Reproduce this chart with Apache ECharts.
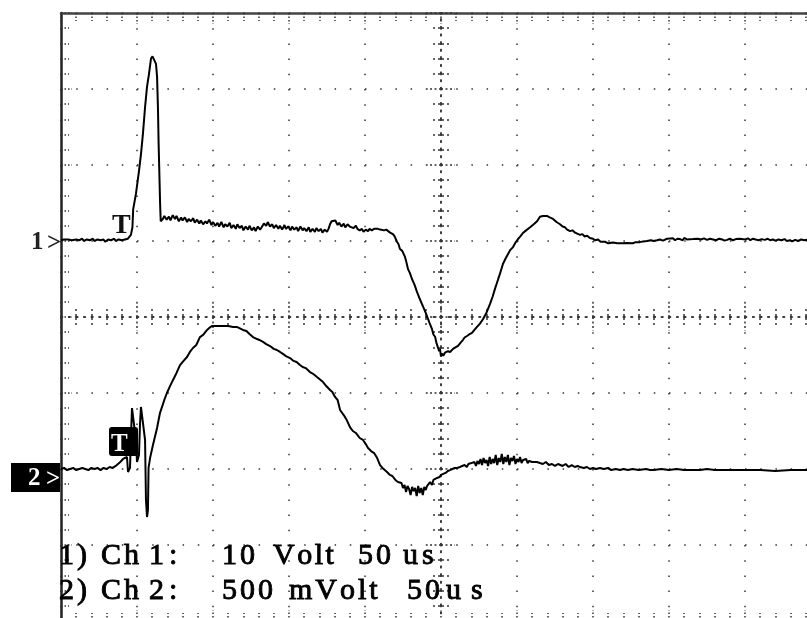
<!DOCTYPE html>
<html><head><meta charset="utf-8">
<script src="https://cdn.jsdelivr.net/npm/echarts@6/dist/echarts.min.js"></script>
<style>html,body{margin:0;padding:0;background:#fff}#c{width:807px;height:618px}</style>
</head><body><div id="c"></div>
<script>
// ---- DATA (time in microseconds from left screen edge) ----
// Channel 1: [time us, Volts]  (10 V/div)
const ch1Trace = [
[0,0.1],[2,0.2],[3,0.0],[5,0.2],[7,0.1],[8,-0.1],[10,0.2],[12,0.1],[14,0.3],[15,0.0],[17,0.2],[19,0.1],[21,0.3],[22,0.0],[24,0.2],[26,0.1],[28,0.2],[29,-0.1],[31,0.2],[33,0.1],[35,0.3],[36,0.0],[38,0.2],[40,0.1],[42,0.2],[44,0.3],
[46,0.8],[47,1.8],[47.5,4.2],[49.3,6.2],[51.3,9.2],[52.6,11.4],[53.9,14.1],[55.3,17.6],[56.6,20.3],[57.9,22.0],[59.2,24.0],[60.2,24.3],[61.2,24.2],[62.5,23.3],[63.2,21.6],[63.8,17.4],[64.2,13.0],[64.8,8.2],[65.2,4.9],[65.6,2.6],
[67,2.9],[68,3.3],[69.5,2.8],[71,3.2],[72,2.7],[73.5,3.4],[75,2.9],[76,3.3],[77.5,2.6],[79,3.1],[80,2.7],[81.5,3.1],[83,2.5],[84,2.9],[85.5,2.6],[87,3.0],[88,2.4],[89.5,2.8],[91,2.3],[92,2.7],[93.5,2.2],[95,2.6],[96,2.3],[97.5,2.8],[99,2.1],[100,2.5],[101.5,2.0],[103,2.4],[104,1.9],[105.5,2.5],[107,1.8],[108,2.2],[109.5,1.9],[111,2.4],[112,1.7],[113.5,2.1],[115,1.6],[116,2.2],[117.5,1.7],[119,2.0],[120,1.4],[121.5,1.9],[123,1.5],[124,2.0],[125.5,1.4],[127,1.8],[128,1.3],[129.5,1.9],[131,1.5],[132,1.8],[133.5,2.3],[135,2.0],[136,2.5],[137.5,1.9],[139,2.2],[140,1.7],[141.5,2.1],[143,1.6],[144,2.0],[145.5,1.5],[147,2.1],[148,1.6],[149.5,1.9],[151,1.4],[152,1.9],[153.5,1.5],[155,1.8],[156,1.3],[157.5,1.9],[159,1.4],[160,1.7],[161.5,1.3],[163,1.8],[164,1.2],[165.5,1.6],[167,1.2],[168,1.7],[169.5,1.3],[171,1.6],[172,1.1],[173.5,1.5],[175,1.2],[176,1.6],[177,2.2],[178,2.6],[179,2.4],[180.5,2.7],[182,2.1],[183,2.4],[184.5,1.9],[186,2.3],[187,1.8],[188.5,2.2],[190,1.9],[191,2.1],[192.5,1.7],[194,2.0],[195,1.6],[196.5,1.4],[198,1.6],[199,1.2],[200.5,1.5],[202,1.3],[203,1.6],[204.5,1.4],[206,1.6],[207,1.5],[208.5,1.6],[210,1.5],[211,1.6],[212.5,1.4],[214,1.5],[215,1.3],[216.5,1.1],
[218.4,0.9],[219.5,0.6],[221,-0.1],[222,-0.4],[223,-1.05],[224.5,-1.3],[226.3,-2.1],[227,-2.6],[228.3,-3.7],[229.5,-4.2],[230.9,-5.0],[232.5,-5.7],[234.2,-6.7],[236,-7.6],[237.5,-8.3],[239,-9.0],[240.8,-9.9],[242.5,-10.8],[244.1,-11.6],[245,-12.3],[246.1,-12.6],[247,-13.4],[248,-13.6],[248.8,-14.5],[249.3,-14.2],[250,-15.2],[250.7,-14.8],[251.5,-15.1],[252.6,-14.7],[253.5,-14.8],[254.6,-14.5],[256,-14.6],[257.9,-14.2],[259.5,-14.0],[261.2,-13.8],[262.8,-13.4],[264.5,-13.0],[265.5,-12.7],[267.1,-12.5],[268.5,-12.3],[270.4,-12.1],[272,-11.7],[273.7,-11.3],[275.5,-10.9],[277.6,-10.3],[280,-9.4],[282.2,-8.3],[284,-7.3],[285.5,-6.3],[287,-5.4],[288.8,-4.3],[290.8,-3.0],[292.5,-2.3],[294.1,-1.7],[295.5,-1.2],[297.4,-0.8],[299,-0.2],[300.7,0.26],[302.2,0.6],[303.9,1.05],[306,1.4],[308.6,1.8],[311,2.2],[313.2,2.6],[315.1,3.2],[317,3.3],[319.7,3.3],[321.5,3.1],[323.7,2.9],[326,2.5],[328.3,2.2],[330,1.9],[331.6,1.8],[333,1.5],[334.9,1.3],[336.5,1.4],[338.2,1.1],[339.5,1.2],[341.4,0.8],[343,0.9],[344.5,0.6],[346.1,0.7],[348,0.4],[350,0.3],[351.5,0.1],[353.3,0.2],[355,-0.1],[357.9,-0.1],[360,-0.3],[363.2,-0.2],[366,-0.3],[369.7,-0.3],[372,-0.25],[376.3,-0.3],[378,-0.15],[380.9,-0.15],[383,-0.05],[385.5,0.0],[388,0.1],[390,0.0],[392.1,0.1],[394,0.2],[396,0.05],[398.7,0.3],[400,0.15],[402.6,0.35],[404,0.1],[405.5,0.3],[407.2,0.25],[409,0.1],[410,0.4],[411.8,0.2],[413,0.3],[415.8,0.25],[417,0.1],[419,0.3],[421,0.2],[423,0.35],[425,0.15],[427,0.3],[429,0.2],[431,0.1],[433,0.3],[435,0.2],[436.5,0.05],[438.2,0.15],[440,0.3],[442,0.1],[444,0.25],[446.7,0.3],[448,0.15],[450,0.2],[452,0.35],[453.5,0.1],[455.3,0.3],[457,0.2],[459,0.1],[461,0.25],[463,0.15],[465,0.3],[466.5,0.1],[468.4,0.2],[470,0.05],[472,0.2],[474,0.1],[476,0.25],[477.5,0.0],[479.6,0.1],[481,-0.05],[483,0.15],[485,0.0],[487,0.2],[489,0.1],[490.8,0.15]
];
// Channel 2: [time us, milliVolts]  (500 mV/div)
const ch2Trace = [
[0,0],[2,7],[4,-7],[6,0],[8,7],[10,-7],[12,0],[14,7],[16,0],[18,-7],[20,7],[22,0],[24,7],[26,-7],[28,7],[30,0],[32,13],[34,7],[36,20],[37.5,33],[39,46],[40.8,66],[42,72],[43.4,79],[44.1,-20],[45.4,7],[46,200],[46.7,401],[48,408],[49.3,191],[50.0,46],[50.6,40],[51.3,92],[52,300],[52.6,408],[53.9,414],[55.3,191],[55.9,-204],[56.6,-316],[57.2,-270],[57.6,7],[58.6,72],[60.5,158],[63.2,270],[65.1,368],[68.4,467],[69.7,500],[71.5,540],[73.7,586],[76,632],[78.3,684],[80.5,710],[82.9,737],[84.8,770],[86.8,796],[89,816],[91.4,868],[93.5,882],[96.1,915],[97.5,928],[99.3,941],[102,941],[105.9,941],[110,941],[113.2,934],[116,934],[119.7,915],[122,908],[124,888],[126.3,868],[129,855],[130.5,849],[132.9,836],[135,822],[137.5,809],[140,790],[142,783],[144.1,770],[146,757],[148,743],[150.7,730],[153,711],[155,704],[157.2,684],[159,671],[161,664],[163.8,638],[166,625],[168.4,605],[170,592],[172.4,572],[174.5,546],[177,520],[178.5,507],[180.3,474],[182,454],[183.6,388],[186,355],[188,322],[190.1,276],[192,250],[194,237],[196.5,204],[198.7,191],[200.5,164],[202,138],[204,118],[206,105],[208,72],[209.9,26],[211.5,7],[213,-7],[214.5,-20],[216.4,-39],[218,-46],[220,-72],[221.7,-86],[223,-99],[224,-92],[225,-125],[226,-105],[227,-151],[228,-112],[229,-132],[230,-171],[231,-118],[232,-145],[233,-125],[234,-178],[235,-112],[236,-158],[237,-125],[238,-171],[239,-118],[240,-138],[240.8,-112],[242,-99],[242.8,-86],[244,-105],[245,-72],[246,-79],[247.4,-59],[249,-53],[250,-39],[251.3,-33],[253,-26],[254.5,-13],[255.9,-7],[257.5,0],[259,7],[260.5,7],[262.5,13],[264,20],[265.5,26],[267,13],[268,33],[269.1,20],[270,39],[271,26],[272,46],[273,20],[274,53],[275,33],[276,66],[277,26],[278,72],[279,39],[280,59],[281,20],[282,79],[283,33],[284,66],[285,39],[286,92],[287,26],[288,72],[289,46],[290,99],[291,33],[292,79],[293,46],[294,92],[295,26],[296,72],[297,53],[298,86],[299,33],[300,66],[301,46],[302,79],[303,39],[304,59],[305,46],[306,66],[307,39],[308,53],[309,40],[310,46],[311,39],[313,46],[315.1,39],[317,33],[319,46],[321,26],[323,33],[325,20],[327,33],[328.3,26],[330,20],[332,33],[334,13],[336,26],[338,13],[340,20],[341.4,13],[344,7],[346,13],[348,0],[350,7],[352,0],[354.6,7],[357,0],[360,7],[362,-7],[365,0],[367.8,-7],[370,0],[373,-7],[376,0],[380,-7],[385,0],[387.5,-7],[390,-7],[395,0],[400,-7],[405,0],[410,-7],[415,-7],[420.4,-7],[425,0],[430,-7],[440,-7],[450,-7],[460,-7],[470,-13],[480,-7],[490.8,-7]
];
// Screen settings
const timeRangeUs = [0, 500];       // 10 div x 50 us
const divisionRange = [-4, 4];      // 8 vertical divisions
const ch1RangeVolt = [-50, 30];     // 10 V/div, ground 1 div above centre
const ch2RangeMilliVolt = [-1000, 3000]; // 500 mV/div, ground 2 div below centre
const caption1Words = ['1)', 'Ch', '1:', '10', 'Volt', '50', 'us'];
const caption2Words = ['2)', 'Ch', '2:', '500', 'mVolt', '50', 'us'];
const channelMarks = ['1', '>', '2', '>'];
const triggerMark = 'T';

// ---- LAYOUT / STYLE ----
const GRID = {left: 61, top: 13, width: 760, height: 608};
const dotColor = '#333';
const serifFamily = "'Liberation Serif', 'DejaVu Serif', serif";
const capSize = 30;
const caption1X = [59, 101, 149, 222, 273, 358, 403];
const caption1Gap = [3, 3, 5, 3, 2.5, 3, 4];
const caption2X = [59, 101, 149, 222, 289, 407, 446];
const caption2Gap = [3, 3, 5, 3, 3, 3, 10];

const measure = document.createElement('canvas').getContext('2d');
function txt(text, x, y, size, weight, fill, extra) {
  return {type: 'text', x: x, y: y, z: 100, silent: true,
    style: Object.assign({text: text, fontSize: size, fontFamily: serifFamily, fontWeight: weight,
      font: weight + ' ' + size + 'px ' + serifFamily,
      fill: fill, textVerticalAlign: 'middle', verticalAlign: 'middle'}, extra || {})};
}
function spaced(str, x, y, size, spacing, fill) {
  measure.font = size + 'px ' + serifFamily;
  const out = [];
  let cx = x;
  for (const ch of str) {
    out.push(txt(ch, cx, y, size, 'normal', fill, {stroke: fill, lineWidth: 0.9}));
    cx += measure.measureText(ch).width + spacing;
  }
  return out;
}
const graphics = [];
caption1Words.forEach((w, i) => graphics.push(...spaced(w, caption1X[i], 556, capSize, caption1Gap[i], '#000')));
caption2Words.forEach((w, i) => graphics.push(...spaced(w, caption2X[i], 591, capSize, caption2Gap[i], '#000')));
// channel markers
graphics.push(txt(channelMarks[0], 31, 243, 25, 'bold', '#222'));
graphics.push(txt(channelMarks[1], 47, 244, 25, 'bold', '#222'));
graphics.push({type: 'rect', z: 1, silent: true, shape: {x: 11, y: 463, width: 49, height: 29}, style: {fill: '#000'}});
graphics.push(txt(channelMarks[2], 28, 479, 25, 'bold', '#fff'));
graphics.push(txt(channelMarks[3], 46, 480, 25, 'bold', '#fff'));
// trigger markers
graphics.push(txt(triggerMark, 112, 226, 28, 'bold', '#111'));
graphics.push({type: 'rect', z: 1, silent: true, shape: {x: 109, y: 427, width: 29, height: 29, r: 3}, style: {fill: '#000'}});
graphics.push(txt(triggerMark, 111, 445, 25, 'bold', '#fff'));

const dotted = {show: true, lineStyle: {color: dotColor, width: 1.5, type: [1.5, 13.7]}};
const centreLine = {show: true, onZero: false, lineStyle: {color: dotColor, width: 1.5, type: [1.5, 6.1]}};
const centreTick = {show: true, inside: true, length: 14, lineStyle: {color: dotColor, width: 1.5, type: [2, 2.5]}};
const centreMinor = {show: true, splitNumber: 5, length: 8, lineStyle: {color: dotColor, width: 1.5, type: [3, 3]}};
const edgeTick = {show: true, inside: true, length: 11, lineStyle: {color: dotColor, width: 1.5, type: [1.5, 2]}};
const edgeMinor = {show: true, splitNumber: 5, length: 8, lineStyle: {color: dotColor, width: 1.5, type: [1.5, 2]}};
const noLabel = {show: false};

function xAx(extra) {
  return Object.assign({type: 'value', min: timeRangeUs[0], max: timeRangeUs[1], interval: 50,
    axisLabel: noLabel, splitLine: {show: false}}, extra);
}
function divAx(extra) {
  return Object.assign({type: 'value', min: divisionRange[0], max: divisionRange[1], interval: 1,
    axisLabel: noLabel, splitLine: {show: false}}, extra);
}

const chart = echarts.init(document.getElementById('c'), null, {renderer: 'canvas'});
chart.setOption({
  animation: false,
  backgroundColor: '#fff',
  grid: Object.assign({containLabel: false, outerBoundsMode: 'none'}, GRID),
  xAxis: [
    xAx({position: 'bottom', splitLine: dotted,
      axisLine: {show: true, onZero: true, onZeroAxisIndex: 0, lineStyle: centreLine.lineStyle},
      axisTick: centreTick, minorTick: centreMinor}),
    xAx({position: 'top',
      axisLine: {show: true, onZero: true, onZeroAxisIndex: 0, lineStyle: centreLine.lineStyle},
      axisTick: centreTick, minorTick: centreMinor}),
    xAx({position: 'top', axisLine: {show: true, onZero: false, lineStyle: {color: '#444', width: 2.5}},
      axisTick: edgeTick, minorTick: edgeMinor}),
    xAx({position: 'bottom', axisLine: {show: true, onZero: false, lineStyle: {color: '#333', width: 2}},
      axisTick: edgeTick, minorTick: edgeMinor})
  ],
  yAxis: [
    divAx({position: 'left', splitLine: dotted,
      axisLine: {show: true, onZero: false, lineStyle: {color: '#222', width: 2.5}},
      axisTick: edgeTick, minorTick: edgeMinor}),
    divAx({position: 'left', offset: -380, axisLine: centreLine, axisTick: centreTick, minorTick: centreMinor}),
    divAx({position: 'right', offset: -380, axisLine: centreLine, axisTick: centreTick, minorTick: centreMinor}),
    {type: 'value', show: false, min: ch1RangeVolt[0], max: ch1RangeVolt[1], interval: 10},
    {type: 'value', show: false, min: ch2RangeMilliVolt[0], max: ch2RangeMilliVolt[1], interval: 500}
  ],
  graphic: {elements: graphics},
  series: [
    {name: 'Ch 1', type: 'line', xAxisIndex: 0, yAxisIndex: 3, data: ch1Trace, showSymbol: false, symbol: 'none',
      silent: true, z: 5, lineStyle: {color: '#000', width: 2}},
    {name: 'Ch 2', type: 'line', xAxisIndex: 0, yAxisIndex: 4, data: ch2Trace, showSymbol: false, symbol: 'none',
      silent: true, z: 5, lineStyle: {color: '#000', width: 2}}
  ]
});
</script></body></html>
